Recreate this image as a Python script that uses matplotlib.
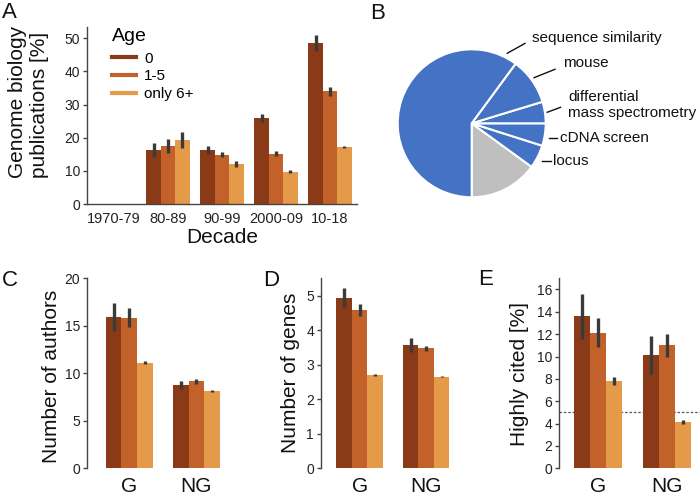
import matplotlib
matplotlib.use('Agg')
import matplotlib.pyplot as plt
import numpy as np

plt.rcParams['font.family'] = ['Liberation Sans', 'DejaVu Sans']

W, H = 700, 496

# ---------------- data ----------------
age_groups = ['0', '1-5', 'only 6+']
age_colors = ['#8A3A16', '#C2622A', '#E49A48']

decades = ['1970-79', '80-89', '90-99', '2000-09', '10-18']
pubs_0 = [0, 16.3, 16.3, 25.9, 48.6]
pubs_0_err = [0, 2.2, 1.2, 1.3, 2.3]
pubs_15 = [0, 17.5, 14.9, 15.2, 34.0]
pubs_15_err = [0, 2.0, 0.8, 0.8, 1.3]
pubs_6 = [0, 19.4, 12.2, 9.8, 17.2]
pubs_6_err = [0, 2.4, 0.9, 0.4, 0.4]

pie_labels = ['', 'locus', 'cDNA screen', 'differential\nmass spectrometry',
              'mouse', 'sequence similarity']
pie_values = [15.0, 5.1, 4.9, 4.7, 10.2, 60.1]
pie_colors = ['#BFBFBF', '#4472C4', '#4472C4', '#4472C4', '#4472C4', '#4472C4']

groups = ['G', 'NG']
authors_0 = [15.9, 8.75]
authors_0_err = [1.45, 0.45]
authors_15 = [15.85, 9.15]
authors_15_err = [1.0, 0.3]
authors_6 = [11.1, 8.1]
authors_6_err = [0.15, 0.1]

genes_0 = [4.94, 3.57]
genes_0_err = [0.27, 0.19]
genes_15 = [4.58, 3.47]
genes_15_err = [0.18, 0.07]
genes_6 = [2.70, 2.65]
genes_6_err = [0.03, 0.02]

cited_0 = [13.6, 10.1]
cited_0_err = [2.0, 1.7]
cited_15 = [12.15, 11.0]
cited_15_err = [1.3, 1.0]
cited_6 = [7.84, 4.14]
cited_6_err = [0.35, 0.2]
cited_baseline = 5

# ---------------- helpers ----------------
fig = plt.figure(figsize=(W / 100, H / 100), dpi=100)


def px_axes(left, top, right, bottom):
    return fig.add_axes([left / W, 1 - bottom / H, (right - left) / W, (bottom - top) / H])


def fx(x):
    return x / W


def fy(y):
    return 1 - y / H


ERR_C = '#3a3a3a'
SPINE_C = '#444444'


def style_axes(ax, tick_fs):
    for s in ['top', 'right']:
        ax.spines[s].set_visible(False)
    ax.spines['left'].set_color(SPINE_C)
    ax.spines['left'].set_linewidth(1.0)
    ax.tick_params(axis='y', colors=SPINE_C, length=3, width=1, labelsize=tick_fs,
                   labelcolor='#222222', pad=2)


def grouped_bars(ax, cats, series, errs, width):
    x = np.arange(len(cats))
    for i, (vals, err, col) in enumerate(zip(series, errs, age_colors)):
        xs = x + (i - 1) * width
        ax.bar(xs, vals, width=width, color=col, edgecolor='none', zorder=2, label=age_groups[i])
        ax.errorbar(xs, vals, yerr=err, fmt='none', ecolor=ERR_C, elinewidth=2.4,
                    capsize=0, zorder=3)
    return x


# ---------------- Panel A ----------------
axA = px_axes(87, 26.7, 357, 204)
style_axes(axA, 10)
xA = grouped_bars(axA, decades, [pubs_0, pubs_15, pubs_6],
                  [pubs_0_err, pubs_15_err, pubs_6_err], 0.8 / 3)
axA.set_xlim(-0.5, 4.5)
axA.set_ylim(0, 53.5)
axA.set_yticks([0, 10, 20, 30, 40, 50])
axA.set_xticks(xA)
axA.set_xticklabels(decades, fontsize=10.5, color='#222222')
axA.tick_params(axis='x', length=0, pad=6)
axA.spines['bottom'].set_color(SPINE_C)
axA.spines['bottom'].set_linewidth(1.0)
axA.set_xlabel('Decade', fontsize=15, labelpad=1, color='#111111')
axA.set_ylabel('Genome biology\npublications [%]', fontsize=15, multialignment='left',
               color='#111111')
axA.yaxis.set_label_coords(fx(49), fy(101.5), transform=fig.transFigure)
handles = [plt.Line2D([], [], color=c, lw=3) for c in age_colors]
leg = axA.legend(handles, age_groups, title='Age', loc='upper left',
                 bbox_to_anchor=(fx(112), fy(28)), bbox_transform=fig.transFigure,
                 frameon=False, fontsize=11, title_fontsize=14, borderpad=0,
                 handlelength=1.6, handletextpad=0.5, labelspacing=0.235,
                 alignment='left', borderaxespad=0)
leg._legend_box.sep = 4.8

# ---------------- Panel B ----------------
cx, cy, r = 471.7, 123.3, 74
axB = px_axes(cx - r, cy - r, cx + r, cy + r)
axB.pie(pie_values, colors=pie_colors, startangle=-90, counterclock=True,
        wedgeprops=dict(edgecolor='white', linewidth=1.5))
axB.set_xlim(-1, 1)
axB.set_ylim(-1, 1)
axB.set_aspect('equal')
axB.axis('off')
# leader-line layout (in pie-radius units): start, end, text anchor
leader_layout = {
    'sequence similarity': ((0.48, 0.946), (0.72, 1.08), (0.81, 1.157)),
    'mouse': ((0.842, 0.616), (1.126, 0.73), (1.238, 0.819)),
    'differential\nmass spectrometry': ((1.02, 0.149), (1.2, 0.216), (1.305, 0.247)),
    'cDNA screen': ((1.045, -0.195), (1.157, -0.195), (1.2, -0.195)),
    'locus': ((0.954, -0.505), (1.068, -0.505), (1.103, -0.505)),
}
for lab in pie_labels:
    if not lab:
        continue
    (x0, y0), (x1, y1), (tx, ty) = leader_layout[lab]
    axB.plot([x0, x1], [y0, y1], color='#111111', lw=1, clip_on=False)
    axB.text(tx, ty, lab, ha='left', va='center', multialignment='left', fontsize=11,
             color='#111111', linespacing=1.15, clip_on=False)

# ---------------- Panels C, D, E ----------------
def small_panel(left, right, xmin, xmax, series, errs, ymax, yticks, ylabel, lab_x, lab_y):
    ax = px_axes(left, 278.3, right, 468.3)
    style_axes(ax, 10)
    ax.spines['bottom'].set_visible(False)
    x = grouped_bars(ax, groups, series, errs, 0.7 / 3)
    ax.set_xlim(xmin, xmax)
    ax.set_ylim(0, ymax)
    ax.set_yticks(yticks)
    ax.set_xticks(x)
    ax.set_xticklabels(groups, fontsize=15, color='#111111')
    ax.tick_params(axis='x', length=0, pad=6)
    ax.set_ylabel(ylabel, fontsize=15, color='#111111')
    ax.yaxis.set_label_coords(fx(lab_x), fy(lab_y), transform=fig.transFigure)
    return ax


axC = small_panel(87, 238, -0.63, 1.62, [authors_0, authors_15, authors_6],
                  [authors_0_err, authors_15_err, authors_6_err], 20,
                  [0, 5, 10, 15, 20], 'Number of authors', 61, 376)
axD = small_panel(321, 466, -0.58, 1.6, [genes_0, genes_15, genes_6],
                  [genes_0_err, genes_15_err, genes_6_err], 5.5,
                  [0, 1, 2, 3, 4, 5], 'Number of genes', 300, 373)
axE = small_panel(559, 700, -0.57, 1.48, [cited_0, cited_15, cited_6],
                  [cited_0_err, cited_15_err, cited_6_err], 17,
                  [0, 2, 4, 6, 8, 10, 12, 14, 16], 'Highly cited [%]', 529, 374)
axE.axhline(cited_baseline, color='#555555', lw=0.9, ls=(0, (2, 1.5)), zorder=1)

# ---------------- panel letters ----------------
for letter, x, y in [('A', 2, 2), ('B', 370, 3), ('C', 2, 270), ('D', 263, 270), ('E', 478, 269)]:
    fig.text(fx(x), fy(y), letter, fontsize=16, ha='left', va='top', color='#111111')

fig.savefig('out.png', dpi=100)
